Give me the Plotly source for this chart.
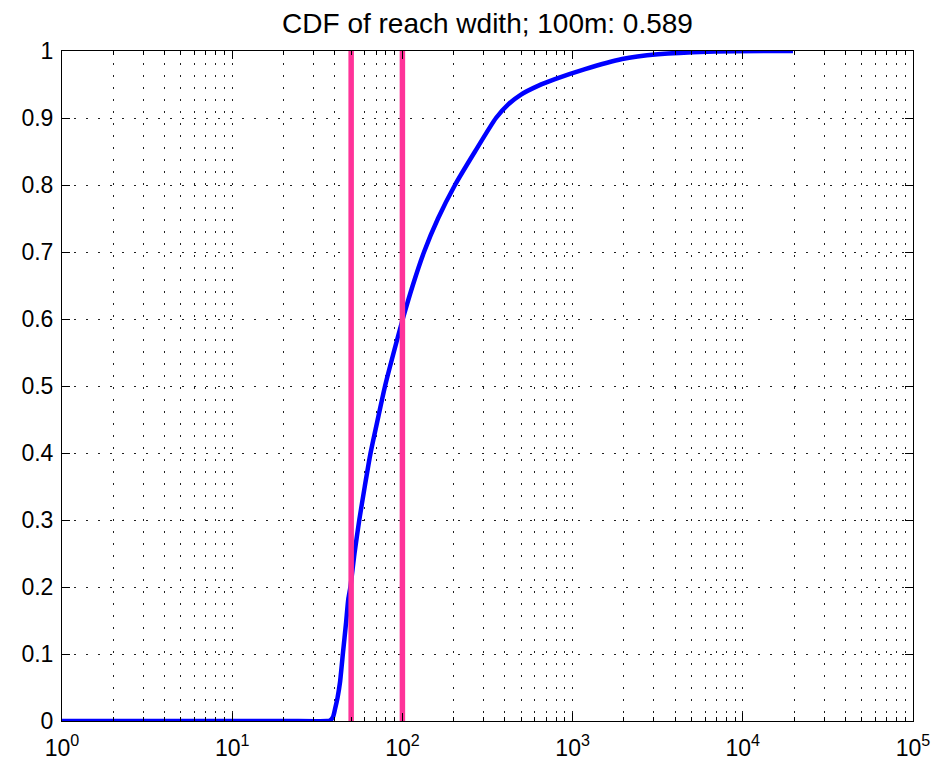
import plotly.graph_objects as go

# ---- data ----
reach_width = [1, 20, 36, 37.6, 39.1, 40.2, 41.6, 43.0, 44.8, 46.6, 48.1, 49.5, 52.3,
               55.8, 60.1, 65.0, 71.6, 79.1, 88.9, 100.5, 115.0, 134.0, 161.9, 203.7, 267.1,
               354.7, 417.3, 497.6, 626.2, 788, 1184, 1955, 3169, 6165, 19720]
cdf_value = [0, 0, 0, 0.001, 0.006, 0.018, 0.035, 0.058, 0.103, 0.145, 0.182, 0.2, 0.25,
             0.3, 0.35, 0.4, 0.45, 0.5, 0.55, 0.6, 0.65, 0.7, 0.75, 0.8, 0.85,
             0.9, 0.92, 0.935, 0.948, 0.958, 0.973, 0.988, 0.995, 0.999, 1.0]

marker_widths = [50, 100]
marker_y = [0, 1]

x_major = [1, 10, 100, 1000, 10000, 100000]
x_major_text = ["10<sup>0</sup>", "10<sup>1</sup>", "10<sup>2</sup>",
                "10<sup>3</sup>", "10<sup>4</sup>", "10<sup>5</sup>"]
x_minor = [m * 10 ** k for k in range(5) for m in range(2, 10)]
y_ticks = [0, 0.1, 0.2, 0.3, 0.4, 0.5, 0.6, 0.7, 0.8, 0.9, 1]
y_text = ["0", "0.1", "0.2", "0.3", "0.4", "0.5", "0.6", "0.7", "0.8", "0.9", "1"]

title_text = "CDF of reach wdith; 100m: 0.589"

fig = go.Figure()
fig.add_trace(go.Scatter(x=reach_width, y=cdf_value, mode="lines",
                         line=dict(color="#0000FF", width=4.5, shape="spline", smoothing=0.6),
                         showlegend=False))
for w in marker_widths:
    fig.add_trace(go.Scatter(x=[w, w], y=marker_y, mode="lines",
                             line=dict(color="#FF3399", width=5.5), showlegend=False))

grid_dash = "2px,10px"
fig.update_layout(
    width=944, height=763,
    margin=dict(l=62, r=31, t=51, b=42),
    paper_bgcolor="white", plot_bgcolor="white",
    font=dict(family="Liberation Sans, Arial, sans-serif", size=23, color="black"),
    title=dict(text=title_text, x=0.5, xref="paper", xanchor="center",
               y=1 - 23 / 763, yref="container", yanchor="middle",
               font=dict(size=28, color="black")),
)
fig.update_xaxes(
    type="log", range=[0, 5], automargin=False,
    tickmode="array", tickvals=x_major, ticktext=x_major_text,
    ticks="inside", ticklen=8, tickcolor="black", tickwidth=1, ticklabelstandoff=6,
    showline=True, linecolor="black", linewidth=1, mirror="ticks",
    showgrid=True, gridcolor="#222222", gridwidth=1, griddash=grid_dash,
    zeroline=False,
    minor=dict(tickmode="array", tickvals=x_minor, ticks="inside", ticklen=4,
               tickcolor="black", showgrid=True, gridcolor="#222222",
               gridwidth=1, griddash=grid_dash),
)
fig.update_yaxes(
    range=[0, 1], automargin=False,
    tickmode="array", tickvals=y_ticks, ticktext=y_text,
    ticks="inside", ticklen=8, tickcolor="black", tickwidth=1, ticklabelstandoff=3,
    showline=True, linecolor="black", linewidth=1, mirror="ticks",
    showgrid=True, gridcolor="#222222", gridwidth=1, griddash=grid_dash,
    zeroline=False,
)

fig.write_html("out.html", config={"displayModeBar": False})

# remove the default page margin so the figure sits at the window's corner
with open("out.html", "r", encoding="utf-8") as f:
    html = f.read()
html = html.replace("<head>", "<head><style>html,body{margin:0;padding:0;overflow:hidden;}</style>", 1)
with open("out.html", "w", encoding="utf-8") as f:
    f.write(html)
